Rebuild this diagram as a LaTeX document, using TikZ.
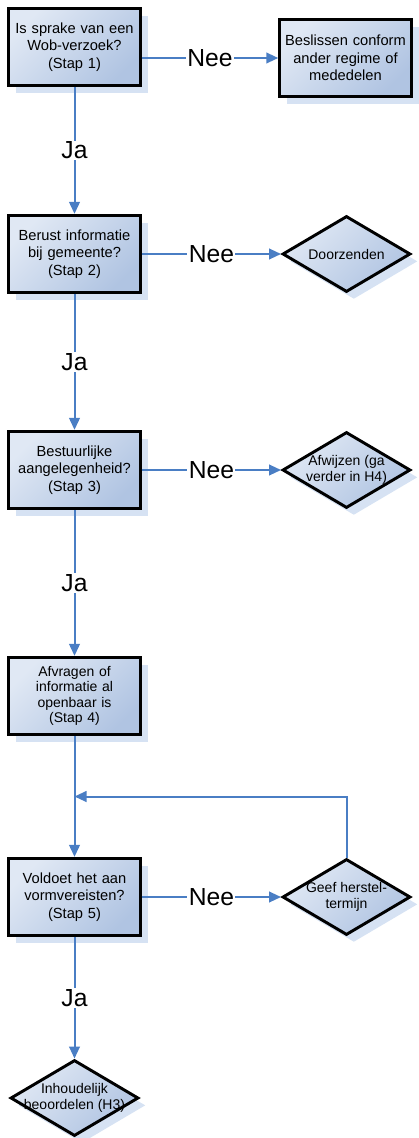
\documentclass[tikz,border=0pt]{standalone}
\usepackage{fontspec}
\setmainfont{Liberation Sans}
\usepackage{tikz}
\usetikzlibrary{positioning,calc,arrows.meta,shapes.geometric,shadows}
\definecolor{vaklicht}{RGB}{224,232,244}
\definecolor{vakdonker}{RGB}{176,196,226}
\definecolor{schaduw}{RGB}{214,226,243}
\definecolor{lijnblauw}{RGB}{74,126,196}

\begin{document}
\begin{tikzpicture}
   [x=0.75pt,y=-0.75pt,
	schaduwen/.style={drop shadow={shadow xshift=5.5pt,shadow yshift=-5.5pt,fill=schaduw,opacity=1}},
	stap/.style={rectangle,draw=black,line width=2.2pt,minimum width=96pt,minimum height=58pt,
		text width=92pt,align=center,font=\fontsize{11}{13}\selectfont,
		top color=vaklicht,bottom color=vakdonker,shading angle=45,schaduwen},
	ruittekst/.style={align=center,font=\fontsize{10.5}{12.5}\selectfont},
	ruit/.style={diamond,draw=black,line width=2.2pt,minimum width=96pt,minimum height=57pt,inner sep=0pt,
		top color=vaklicht,bottom color=vakdonker,shading angle=45,schaduwen,
		label={[ruittekst]center:{#1}}},
	lijn/.style={draw=lijnblauw,line width=1.5pt},
	pijl/.style={lijn,-{Triangle[length=9pt,width=8pt]}},
	keuze/.style={fill=white,inner sep=1pt,font=\fontsize{18.5}{20}\selectfont}]

\useasboundingbox (0,0) rectangle (418,1138);

\node [stap] (stap1) at (74.5,47) {Is sprake van een\\Wob-verzoek?\\(Stap 1)};
\node [stap] (beslis) at (345.5,58) {Beslissen conform\\ander regime of\\mededelen};
\node [stap] (stap2) at (74.5,254) {Berust informatie\\bij gemeente?\\(Stap 2)};
\node [ruit={Doorzenden}] (doorzenden) at (346.5,254) {};
\node [stap] (stap3) at (74.5,470) {Bestuurlijke\\aangelegenheid?\\(Stap 3)};
\node [ruit={Afwijzen (ga\\verder in H4)}] (afwijzen) at (346.5,470) {};
\node [stap,font=\fontsize{10.5}{11.5}\selectfont] (stap4) at (74.5,696) {Afvragen of\\informatie al\\openbaar is\\(Stap 4)};
\node [stap] (stap5) at (74.5,897) {Voldoet het aan\\vormvereisten?\\(Stap 5)};
\node [ruit={Geef herstel-\\termijn}] (geef) at (346.5,897) {};
\node [ruit={Inhoudelijk\\beoordelen (H3)}] (inhoud) at (74.5,1098) {};

\draw [pijl] (stap1.east |- beslis) -- node [keuze] {Nee} (beslis);
\draw [pijl] (stap2) -- node [keuze] {Nee} (doorzenden);
\draw [pijl] (stap3) -- node [keuze] {Nee} (afwijzen);
\draw [pijl] (stap5) -- node [keuze] {Nee} (geef);

\draw [pijl] (stap1) -- node [keuze] {Ja} (stap2);
\draw [pijl] (stap2) -- node [keuze] {Ja} (stap3);
\draw [pijl] (stap3) -- node [keuze] {Ja} (stap4);
\draw [pijl] (stap4) -- (stap5);
\draw [pijl] (stap5) -- node [keuze] {Ja} (inhoud);

\coordinate (terug) at ($(stap4.south)!0.5!(stap5.north)$);
\draw [pijl] (geef.north) |- (terug);
\end{tikzpicture}
\end{document}
